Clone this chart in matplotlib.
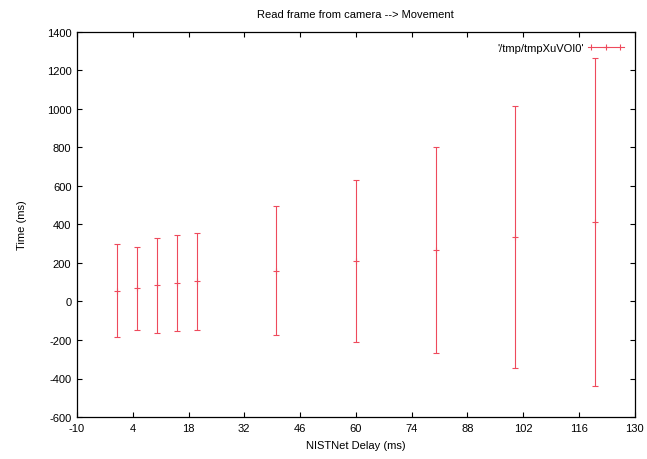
import matplotlib
matplotlib.use("Agg")
import matplotlib.pyplot as plt
from matplotlib.lines import Line2D
from matplotlib.legend_handler import HandlerLine2D, HandlerTuple

# NISTNet delay (ms) vs. mean time and std deviation (ms)
delay = [0, 5, 10, 15, 20, 40, 60, 80, 100, 120]
mean_time = [57, 69, 84, 96, 105, 161, 210, 270, 337, 413]
std_time = [240, 215, 247, 249, 252, 333, 420, 535, 680, 851]

xticks = [-10, 4, 18, 32, 46, 60, 74, 88, 102, 116, 130]
yticks = [-600, -400, -200, 0, 200, 400, 600, 800, 1000, 1200, 1400]

plt.rcParams['font.family'] = ['Liberation Sans', 'DejaVu Sans']
plt.rcParams['font.size'] = 8
plt.rcParams['axes.unicode_minus'] = False

red = '#ee4a5c'

fig = plt.figure(figsize=(6.47, 4.6), dpi=100)
ax = fig.add_axes([0.119, 0.0913, 0.862, 0.837])

ax.errorbar(delay, mean_time, yerr=std_time, fmt='+', color=red,
            ecolor=red, elinewidth=0.8, capsize=2.5, capthick=0.8,
            markersize=5, markeredgewidth=0.8)

ax.set_xlim(-10, 130)
ax.set_ylim(-600, 1400)
ax.set_xticks(xticks)
ax.set_yticks(yticks)
ax.tick_params(direction='in', length=3.5, width=0.8, top=True, right=True,
               labelsize=8, pad=4)
for s in ax.spines.values():
    s.set_linewidth(0.9)

ax.set_title('Read frame from camera --> Movement', fontsize=8, pad=11)
ax.set_xlabel('NISTNet Delay (ms)', fontsize=8, labelpad=5)
ax.set_ylabel('Time (ms)', fontsize=8, labelpad=14)

# gnuplot style key: horizontal bar with end caps and a point in the middle
line_part = Line2D([], [], color=red, lw=0.8, marker='+', markersize=5,
                   markeredgewidth=0.8)
cap_part = Line2D([], [], color=red, lw=0, marker='|', markersize=5,
                  markeredgewidth=0.8)
leg = ax.legend([(line_part, cap_part)], ["'/tmp/tmpXuVOI0'"],
                handler_map={line_part: HandlerLine2D(numpoints=1),
                             cap_part: HandlerLine2D(numpoints=2),
                             tuple: HandlerTuple(ndivide=1, pad=0)},
                loc='upper right', frameon=False, markerfirst=False,
                handlelength=3.2, handletextpad=0.4, borderaxespad=0.6,
                fontsize=8)

plt.savefig('out.png', dpi=100)
